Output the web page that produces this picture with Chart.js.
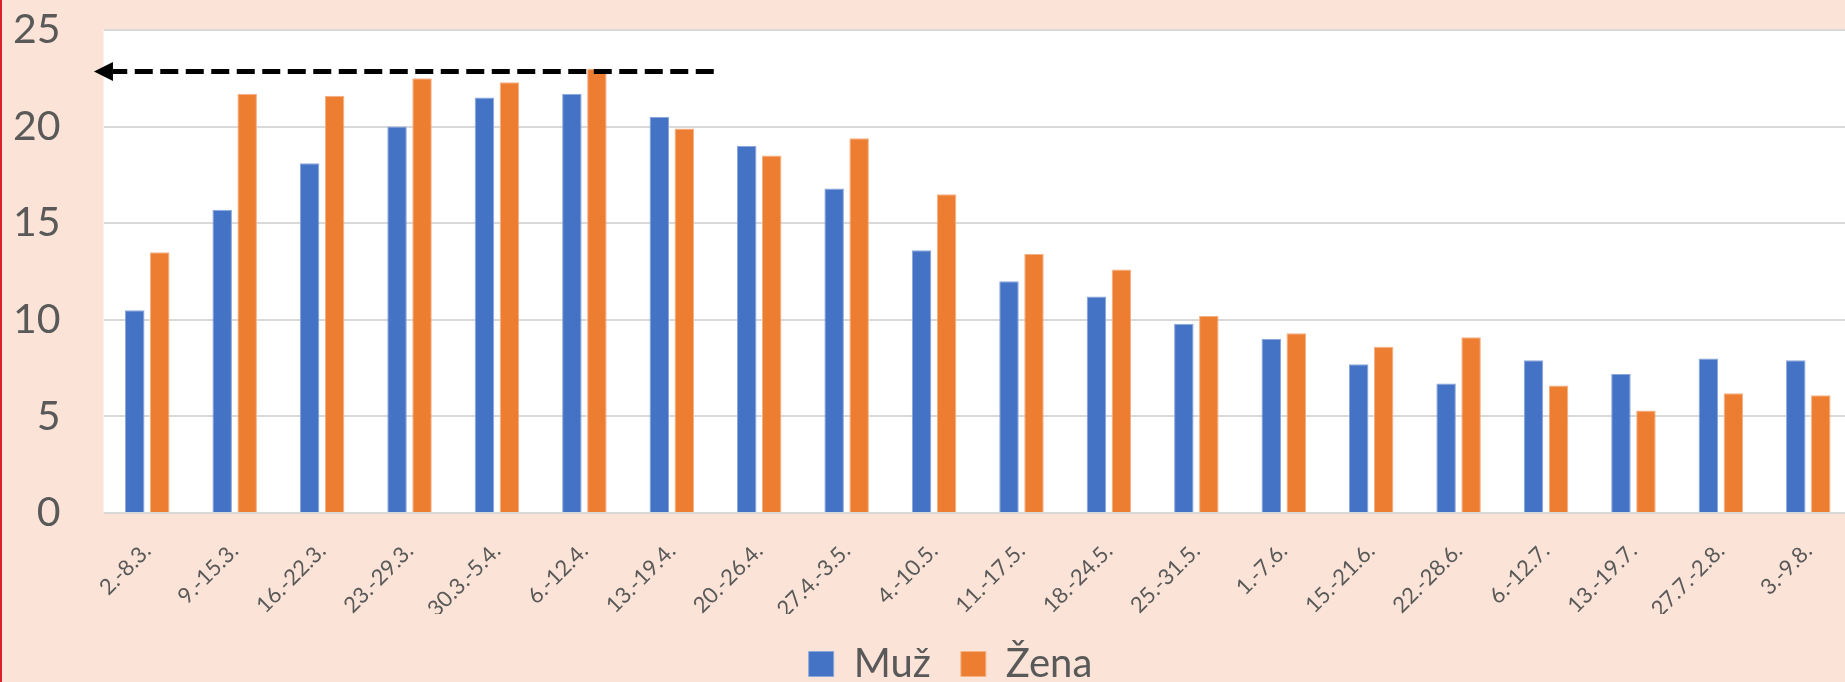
<!DOCTYPE html>
<html>
<head>
<meta charset="utf-8">
<script src="https://cdn.jsdelivr.net/npm/chart.js@4.4.1/dist/chart.umd.min.js"></script>
<style>
  html, body { margin: 0; padding: 0; overflow: hidden; background: #FBE4D7; width: 1845px; height: 682px; }
  #wrap { position: relative; width: 1892px; height: 694px; }
  #edge { position: absolute; left: 0; top: 0; width: 2px; height: 694px; background: #D9202A; z-index: 2; }
  canvas { display: block; }
</style>
</head>
<body>
<div id="wrap">
  <div id="edge"></div>
  <canvas id="c" width="1892" height="694"></canvas>
</div>
<script>
const categories = ["2.-8.3.", "9.-15.3.", "16.-22.3.", "23.-29.3.", "30.3.-5.4.", "6.-12.4.", "13.-19.4.", "20.-26.4.", "27.4.-3.5.", "4.-10.5.", "11.-17.5.", "18.-24.5.", "25.-31.5.", "1.-7.6.", "15.-21.6.", "22.-28.6.", "6.-12.7.", "13.-19.7.", "27.7.-2.8.", "3.-9.8."];
const muz  = [10.5, 15.7, 18.1, 20.0, 21.5, 21.7, 20.5, 19.0, 16.8, 13.6, 12.0, 11.2, 9.8, 9.0, 7.7, 6.7, 7.9, 7.2, 8.0, 7.9];
const zena = [13.5, 21.7, 21.6, 22.5, 22.3, 23.0, 19.9, 18.5, 19.4, 16.5, 13.4, 12.6, 10.2, 9.3, 8.6, 9.1, 6.6, 5.3, 6.2, 6.1];
const seriesNames = ["Muž", "Žena"];
const yTicks = [0, 5, 10, 15, 20, 25];
// dashed arrow annotation: value level and span in category units
const arrowValue = 22.85;
const arrowFrom = 6.48;   // right end (category index units)
const arrowTo = -0.61;    // arrow tip (category index units)

const plotBg = {
  id: 'plotBg',
  beforeDraw(chart) {
    const { ctx, chartArea: a } = chart;
    ctx.save();
    ctx.fillStyle = '#ffffff';
    ctx.fillRect(a.left, a.top, a.right - a.left, a.bottom - a.top);
    ctx.restore();
  }
};

const legendShift = {
  id: 'legendShift',
  afterLayout(chart) {
    const lg = chart.legend;
    if (lg) { lg.left += 18; lg.right += 18; }
  }
};

const arrowPlugin = {
  id: 'arrow',
  afterDatasetsDraw(chart) {
    const { ctx } = chart;
    const xs = chart.scales.x, ys = chart.scales.y;
    const y = ys.getPixelForValue(arrowValue);
    const xEnd = xs.getPixelForValue(arrowFrom);
    const xTip = xs.getPixelForValue(arrowTo);
    const headLen = 19, headHalf = 9.5;
    ctx.save();
    ctx.strokeStyle = '#000';
    ctx.lineWidth = 5;
    ctx.setLineDash([18, 7.5]);
    ctx.beginPath();
    ctx.moveTo(xEnd, y);
    ctx.lineTo(xTip + headLen, y);
    ctx.stroke();
    ctx.setLineDash([]);
    ctx.fillStyle = '#000';
    ctx.beginPath();
    ctx.moveTo(xTip, y);
    ctx.lineTo(xTip + headLen, y - headHalf);
    ctx.lineTo(xTip + headLen, y + headHalf);
    ctx.closePath();
    ctx.fill();
    ctx.restore();
  }
};

new Chart(document.getElementById('c'), {
  type: 'bar',
  data: {
    labels: categories,
    datasets: [
      { label: seriesNames[0], data: muz, backgroundColor: '#4472C4', borderColor: '#8AA6DA', borderWidth: 1 },
      { label: seriesNames[1], data: zena, backgroundColor: '#ED7D31', borderColor: '#F5B084', borderWidth: 1 }
    ]
  },
  options: {
    responsive: false,
    animation: false,
    devicePixelRatio: 1,
    categoryPercentage: 0.572,
    barPercentage: 0.78,
    layout: { padding: { left: 13, right: 40, top: 30, bottom: 0 } },
    plugins: {
      legend: {
        position: 'bottom',
        labels: {
          font: { family: 'Lato', size: 40 },
          color: '#595959',
          boxWidth: 25,
          boxHeight: 25,
          padding: 30
        }
      },
      tooltip: { enabled: false }
    },
    scales: {
      x: {
        afterFit(scale) { scale.height = 101; },
        grid: { display: true, drawOnChartArea: false, color: 'rgba(0,0,0,0)', drawTicks: true, tickLength: 25, tickColor: 'rgba(0,0,0,0)' },
        border: { display: false },
        ticks: {
          autoSkip: false,
          minRotation: 45,
          maxRotation: 45,
          padding: 0,
          font: { family: 'Lato', size: 22 },
          color: '#595959'
        }
      },
      y: {
        min: yTicks[0],
        max: yTicks[yTicks.length - 1],
        afterBuildTicks(scale) { scale.ticks = yTicks.map(v => ({ value: v })); },
        grid: { color: '#D9D9D9', lineWidth: 2, drawTicks: true, tickLength: 43, tickColor: 'rgba(0,0,0,0)' },
        border: { display: false },
        ticks: {
          padding: 0,
          font: { family: 'Lato', size: 41 },
          color: '#595959'
        }
      }
    }
  },
  plugins: [plotBg, legendShift, arrowPlugin]
});
</script>
</body>
</html>
